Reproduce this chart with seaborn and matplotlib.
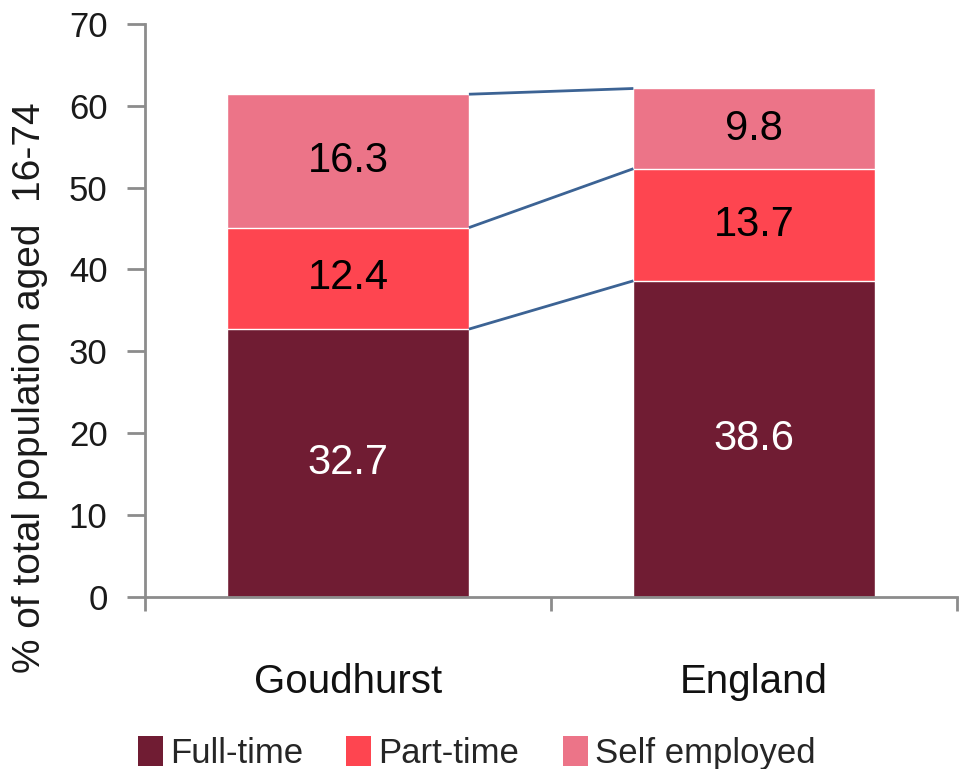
import numpy as np
import pandas as pd
import matplotlib
matplotlib.use("Agg")
import matplotlib.pyplot as plt
import seaborn as sns
from matplotlib.patches import Patch

# Share of population aged 16-74 by employment type
areas = ["Goudhurst", "England"]
series = ["Full-time", "Part-time", "Self employed"]
full_time = [32.7, 38.6]
part_time = [12.4, 13.7]
self_employed = [16.3, 9.8]
colors = ["#701c33", "#fe4550", "#ec7488"]
label_colors = ["white", "black", "black"]

sns.set_theme(style="white")
plt.rcParams["font.family"] = ["Liberation Sans", "DejaVu Sans"]

layers = [full_time, part_time, self_employed]
cum = np.cumsum(np.array(layers), axis=0)

fig = plt.figure(figsize=(9.61, 7.69), dpi=100)
ax = fig.add_axes([0.151, 0.224, 0.845, 0.745])

# stacked bars: draw cumulative totals from top layer down
for i in reversed(range(len(series))):
    df = pd.DataFrame({"area": areas, "value": cum[i]})
    sns.barplot(data=df, x="area", y="value", color=colors[i], width=0.595,
                saturation=1, ax=ax, zorder=2)

# value labels in the middle of each segment
for i, vals in enumerate(layers):
    for j, v in enumerate(vals):
        base = cum[i][j] - v
        ax.text(j, base + v / 2, f"{v:.1f}", ha="center", va="center",
                fontsize=30, color=label_colors[i], zorder=4)

# series connector lines between the two bars
hw = 0.595 / 2
for i in range(len(series)):
    ax.plot([0 + hw, 1 - hw], [cum[i][0], cum[i][1]], color="#3c6394",
            lw=2, zorder=3, solid_capstyle="butt")

ax.set_xlim(-0.5, 1.5)
ax.set_ylim(0, 70)
ax.set_yticks(range(0, 71, 10))
ax.set_xticks([-0.5, 0.5, 1.5], minor=False)
ax.set_xticklabels([])
ax.set_xticks([0, 1], minor=True)
ax.set_xticklabels(areas, minor=True)
ax.set_xlabel("")
ax.set_ylabel("% of total population aged  16-74", fontsize=28,
              color="#1a1a1a")
ax.yaxis.set_label_coords(-0.12, 0.365)

for s in ["top", "right"]:
    ax.spines[s].set_visible(False)
for s in ["left", "bottom"]:
    ax.spines[s].set_color("#8c8c8c")
    ax.spines[s].set_linewidth(2)

ax.tick_params(axis="y", which="major", left=True, length=13, width=2,
               color="#8c8c8c", labelsize=25, labelcolor="#1a1a1a", pad=14)
ax.tick_params(axis="x", which="major", bottom=True, length=10, width=2,
               color="#8c8c8c")
ax.tick_params(axis="x", which="minor", bottom=False, labelsize=29,
               labelcolor="#111111", pad=44)

handles = [Patch(facecolor=c, edgecolor="none") for c in colors]
fig.legend(handles, series, loc="lower left", bbox_to_anchor=(0.111, -0.042),
           ncol=3, frameon=False, fontsize=25, handlelength=0.72,
           handleheight=0.95, handletextpad=0.2, columnspacing=1.25)

fig.savefig("out.png", dpi=100)
